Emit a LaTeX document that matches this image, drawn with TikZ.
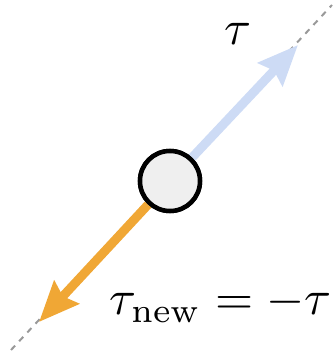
\documentclass[tikz,border=0pt]{standalone}
\usetikzlibrary{arrows.meta}
\definecolor{taublue}{HTML}{CDDBF5}
\definecolor{tauorange}{HTML}{F0A735}
\definecolor{ballgray}{HTML}{EFEFEF}
\definecolor{axisgray}{HTML}{999999}
\tikzset{
  axisline/.style={draw=axisgray, line width=2pt, dash pattern=on 6pt off 6pt},
  vecarrow/.style={line width=9pt, -{Stealth[length=40pt, width=33pt, inset=5pt]}},
  ball/.style={circle, draw=black, line width=4.5pt, fill=ballgray, minimum size=60pt, inner sep=0pt},
  lab/.style={inner sep=0pt, scale=4.9, transform shape}
}
\begin{document}
\begin{tikzpicture}[x=1pt, y=1pt]
\useasboundingbox (0,0) rectangle (332,353);
\coordinate (a1) at (11,3);
\coordinate (a2) at (332,348);
\draw[axisline] (a1) -- (a2);
\node[ball] (c) at (170,172) {};
\coordinate (tb) at (298,308);
\coordinate (to) at (39,31);
\draw[vecarrow, draw=taublue, fill=taublue] (c) -- (tb);
\draw[vecarrow, draw=tauorange, fill=tauorange] (c) -- (to);
\node[ball] at (c) {};
\node[lab, anchor=base west] (t1) at (224,308) {$\tau$};
\node[lab, anchor=base west] (t2) at (109,38) {$\tau_{\mathrm{new}} = -\tau$};
\end{tikzpicture}
\end{document}
